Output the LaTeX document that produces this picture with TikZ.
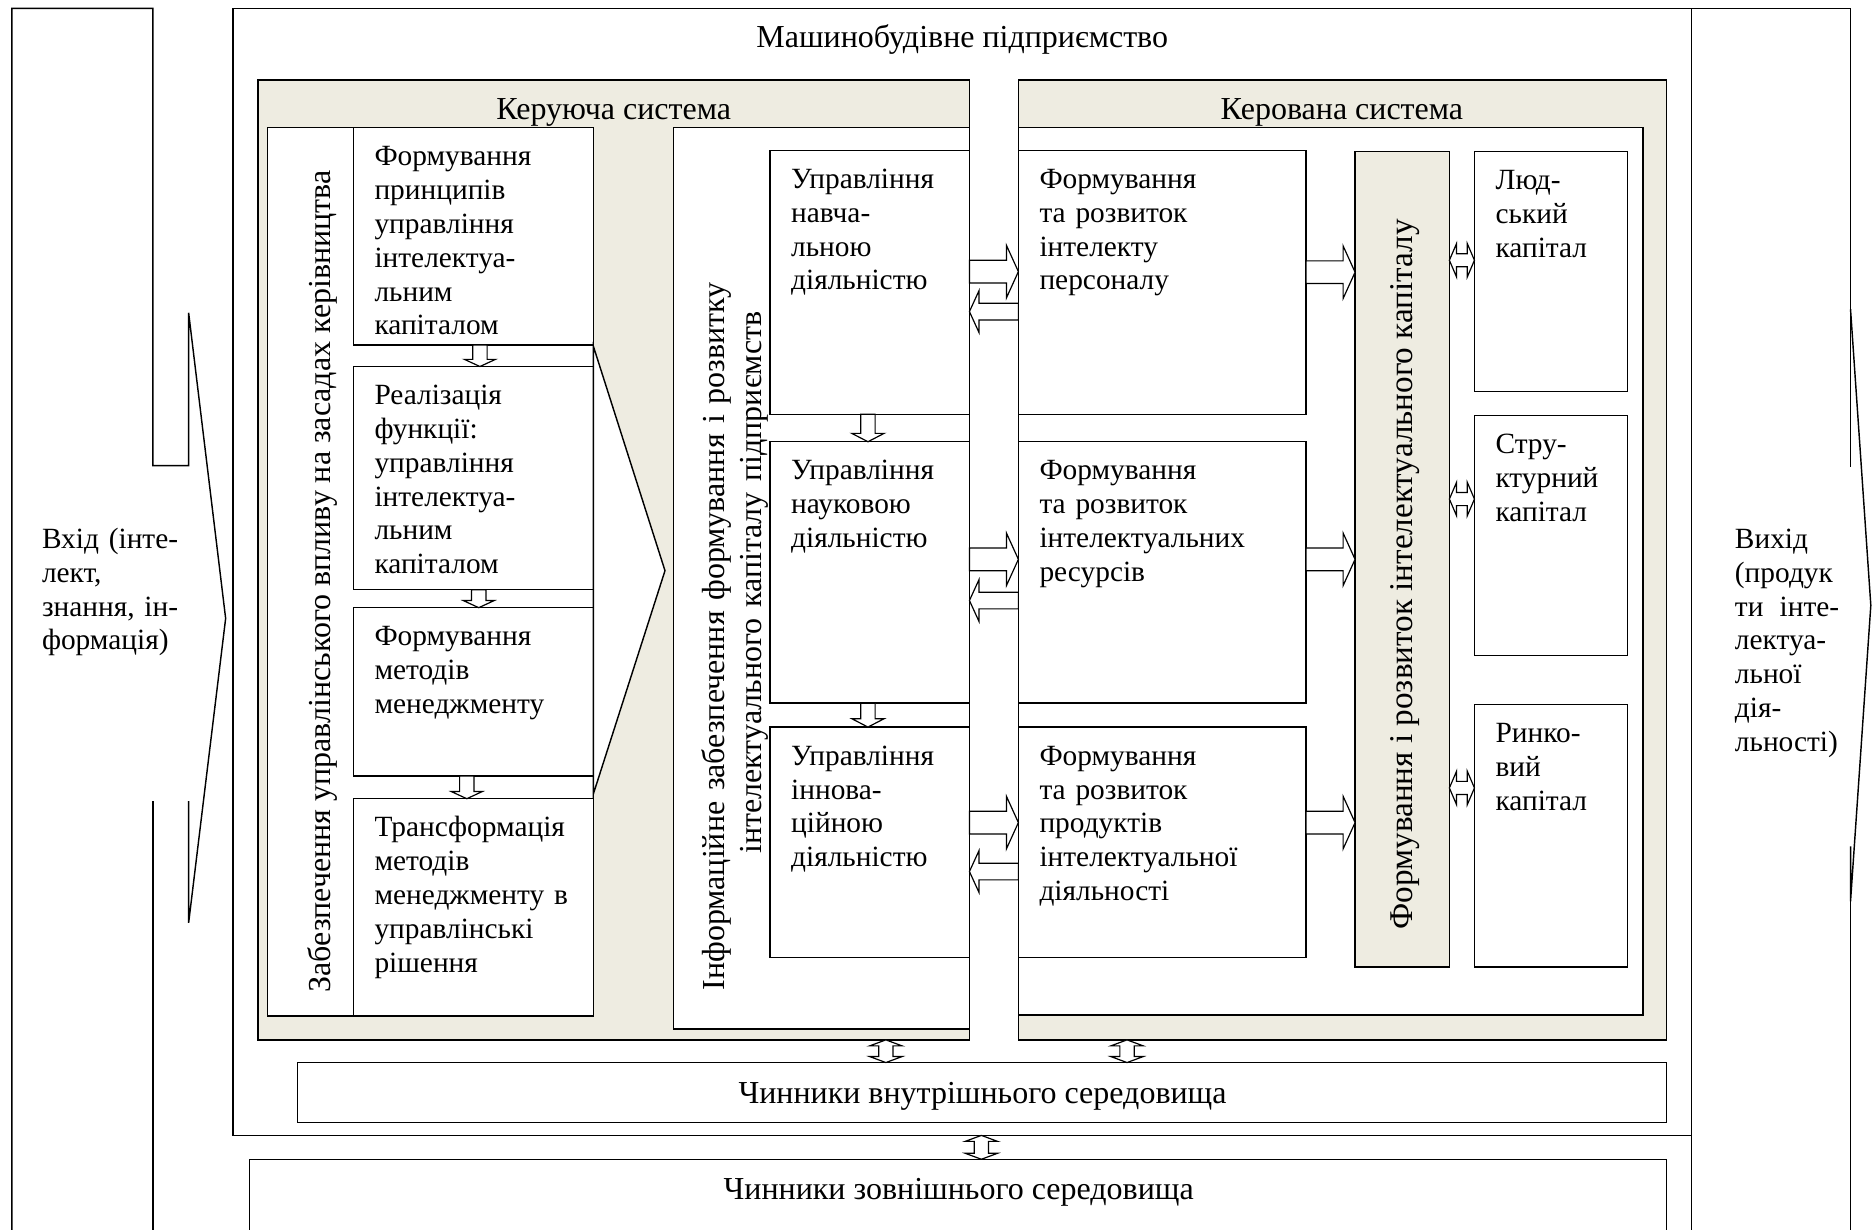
\documentclass[tikz,border=0pt]{standalone}
\usepackage{fontspec}
\setmainfont{Liberation Serif}
\usetikzlibrary{calc}
\definecolor{shade}{HTML}{EEECE1}
\newcommand\fs{\fontsize{24.6}{28.3}\selectfont}
\newcommand\fsb{\fontsize{26.8}{30.5}\selectfont}
\newcommand\fsc{\fontsize{27.8}{30.5}\selectfont}
\newcommand\mkbox[6]{%
  \pgfmathsetmacro\bw{#4-#2}\pgfmathsetmacro\bh{#5-#3}%
  \node[#6, minimum width=\bw pt, minimum height=\bh pt, anchor=north west] (#1) at (#2,#3) {};}
\newcommand\btext[2]{\node[txt] (#1-t) at ($(#1.north west)+(17.5,32)$) {#2};}
% block arrow: start, end, shaft half, head half, head length
\newcommand\blockarrow[5]{%
  \path (#1) coordinate (BAs) (#2) coordinate (BAe);
  \path ($(BAe)!#5pt!(BAs)$) coordinate (BAb);
  \filldraw[arr] ($(BAs)!#3pt!90:(BAe)$) -- ($(BAb)!#3pt!-90:(BAs)$) -- ($(BAb)!#4pt!-90:(BAs)$) -- (BAe) -- ($(BAb)!#4pt!90:(BAs)$) -- ($(BAb)!#3pt!90:(BAs)$) -- ($(BAs)!#3pt!-90:(BAe)$) -- cycle;}
\newcommand\dblarrow[5]{%
  \path (#1) coordinate (BAs) (#2) coordinate (BAe);
  \path ($(BAe)!#5pt!(BAs)$) coordinate (BAb) ($(BAs)!#5pt!(BAe)$) coordinate (BAa);
  \filldraw[arr] (BAs) -- ($(BAa)!#4pt!90:(BAe)$) -- ($(BAa)!#3pt!90:(BAe)$) -- ($(BAb)!#3pt!-90:(BAs)$) -- ($(BAb)!#4pt!-90:(BAs)$) -- (BAe) -- ($(BAb)!#4pt!90:(BAs)$) -- ($(BAb)!#3pt!90:(BAs)$) -- ($(BAa)!#3pt!-90:(BAe)$) -- ($(BAa)!#4pt!-90:(BAe)$) -- cycle;}
\begin{document}
\begin{tikzpicture}[x=1pt,y=-1pt,
  ln/.style={line width=1.2pt, line join=miter},
  box/.style={draw, line width=1.2pt, fill=white, inner sep=0pt, outer sep=0pt},
  shaded/.style={box, fill=shade},
  arr/.style={draw, line width=1pt, fill=white, line join=miter},
  txt/.style={anchor=base west, inner sep=0pt, text width=260pt, align=left, font=\fs},
  ctxt/.style={anchor=base, inner sep=0pt, font=\fsb}]
\path[use as bounding box, clip] (0,0) rectangle (1568,1030);
\fill[white] (0,0) rectangle (1568,1030);
% input shape
\draw[ln] (10,1040) -- (10,7) -- (128,7) -- (128,390) -- (158,390) -- (158,262) -- (189,518) -- (158,773) -- (158,671);
\draw[ln] (128,671) -- (128,1040);
% output shape
\draw[ln] (1417,7) -- (1417,1040);
\draw[ln] (1417,7) -- (1550,7) -- (1550,391);
\draw[ln] (1550,259) -- (1567,507) -- (1550,755) -- (1550,709);
\draw[ln] (1550,755) -- (1550,1040);
% enterprise
\mkbox{mb}{195}{7}{1417}{951}{box}
\node[ctxt] (mbt) at (806,40) {Машинобудівне підприємство};
% controlling system
\mkbox{ks}{216}{67}{812}{871}{shaded}
\node[ctxt] (kst) at (514,100) {Керуюча система};
\mkbox{zb}{224}{107}{497}{851}{box}
\mkbox{b1}{296}{107}{497}{289}{box}
\mkbox{b2}{296}{307}{497}{494}{box}
\mkbox{b3}{296}{509}{497}{650}{box}
\mkbox{b4}{296}{669}{497}{851}{box}
\filldraw[ln, fill=white] ($(zb.north east)+(0,183)$) -- ($(zb.north east)+(60,371)$) -- ($(zb.north east)+(0,558)$) -- cycle;
\mkbox{ib}{564}{107}{812}{862}{box}
\mkbox{u1}{645}{126}{812}{347}{box}
\mkbox{u2}{645}{370}{812}{589}{box}
\mkbox{u3}{645}{609}{812}{802}{box}
% controlled system
\mkbox{kv}{853}{67}{1396}{871}{shaded}
\node[ctxt] (kvt) at (1124,100) {Керована система};
\mkbox{kw}{853}{107}{1376}{850}{box}
\mkbox{f1}{853}{126}{1094}{347}{box}
\mkbox{f2}{853}{370}{1094}{589}{box}
\mkbox{f3}{853}{609}{1094}{802}{box}
\mkbox{bar}{1135}{127}{1214}{810}{shaded}
\mkbox{c1}{1235}{127}{1363}{328}{box}
\mkbox{c2}{1235}{348}{1363}{549}{box}
\mkbox{c3}{1235}{590}{1363}{810}{box}
% environment
\mkbox{vn}{249}{890}{1396}{940}{box}
\mkbox{zn}{209}{971}{1396}{1045}{box}
\node[ctxt] (vnt) at (823,924) {Чинники внутрішнього середовища};
\node[ctxt] (znt) at (803,1005) {Чинники зовнішнього середовища};
% texts
\btext{b1}{Формування\\принципів\\управління\\інтелектуа-\\льним\\капіталом}
\btext{b2}{Реалізація\\функції:\\управління\\інтелектуа-\\льним\\капіталом}
\btext{b3}{Формування\\методів\\менеджменту}
\btext{b4}{Трансформація\\методів\\менеджменту в\\управлінські\\рішення}
\btext{u1}{Управління\\навча-\\льною\\діяльністю}
\btext{u2}{Управління\\науковою\\діяльністю}
\btext{u3}{Управління\\іннова-\\ційною\\діяльністю}
\btext{f1}{Формування\\та розвиток\\інтелекту\\персоналу}
\btext{f2}{Формування\\та розвиток\\інтелектуальних\\ресурсів}
\btext{f3}{Формування\\та розвиток\\продуктів\\інтелектуальної\\діяльності}
\btext{c1}{Люд-\\ський\\капітал}
\btext{c2}{Стру-\\ктурний\\капітал}
\btext{c3}{Ринко-\\вий\\капітал}
\node[txt] (vin) at (35,459.5) {Вхід (інте-\\лект,\\знання, ін-\\формація)};
\node[txt] (vout) at (1453,459.5) {Вихід\\(продук\\ти\hspace{0.55em}інте-\\лектуа-\\льної\\дія-\\льності)};
\node[ctxt, rotate=90] (zbt) at (277,487) {Забезпечення управлінського впливу на засадах керівництва};
\node[ctxt, rotate=90, text width=637pt, align=center] (ibt) at (607,511) {\makebox[637pt][s]{Інформаційне забезпечення формування і розвитку}\\\hspace*{46pt}інтелектуального капіталу підприємств};
\node[ctxt, rotate=90, font=\fsc] (bart) at (1183,481) {Формування і розвиток інтелектуального капіталу};
% down arrows
\blockarrow{$(b1.south west)+(106,0)$}{$(b2.north west)+(106,0)$}{6}{13}{6}
\blockarrow{$(b2.south west)+(105,0)$}{$(b3.north west)+(105,0)$}{6}{13}{6}
\blockarrow{$(b3.south west)+(95,0)$}{$(b4.north west)+(95,0)$}{6}{13}{6}
\blockarrow{$(u1.south west)+(82,0)$}{$(u2.north west)+(82,0)$}{6}{13.5}{7}
\blockarrow{$(u2.south west)+(82,0)$}{$(u3.north west)+(82,0)$}{6}{13.5}{7}
% horizontal arrows
\blockarrow{$(u1.north east)+(0,101.5)$}{$(f1.north west)+(0,101.5)$}{9.5}{22}{10}
\blockarrow{$(f1.north west)+(0,135)$}{$(u1.north east)+(0,135)$}{7}{17.5}{8}
\blockarrow{$(u2.north east)+(0,98.5)$}{$(f2.north west)+(0,98.5)$}{9.5}{22}{10}
\blockarrow{$(f2.north west)+(0,133)$}{$(u2.north east)+(0,133)$}{7}{17.5}{8}
\blockarrow{$(u3.north east)+(0,80)$}{$(f3.north west)+(0,80)$}{9.5}{22}{10}
\blockarrow{$(f3.north west)+(0,121)$}{$(u3.north east)+(0,121)$}{7}{17.5}{8}
\blockarrow{$(f1.north east)+(0,102)$}{$(bar.north west)+(0,101)$}{9.5}{22}{10}
\blockarrow{$(f2.north east)+(0,98.5)$}{$(bar.north west)+(0,341.5)$}{9.5}{22}{10}
\blockarrow{$(f3.north east)+(0,80)$}{$(bar.north west)+(0,562)$}{9.5}{22}{10}
% double arrows
\dblarrow{$(bar.north east)+(0,91)$}{$(c1.north west)+(0,91)$}{5.5}{14}{6}
\dblarrow{$(bar.north east)+(0,291)$}{$(c2.north west)+(0,70)$}{5.5}{14}{6}
\dblarrow{$(bar.north east)+(0,533)$}{$(c3.north west)+(0,70)$}{5.5}{14}{6}
\dblarrow{$(ks.south west)+(526,0)$}{$(vn.north west)+(493,0)$}{6}{13.5}{5}
\dblarrow{$(kv.south west)+(91,0)$}{$(vn.north west)+(695,0)$}{6}{13.5}{5}
\dblarrow{$(mb.south west)+(627,0)$}{$(zn.north west)+(613,0)$}{6}{13.5}{5}
\end{tikzpicture}
\end{document}
